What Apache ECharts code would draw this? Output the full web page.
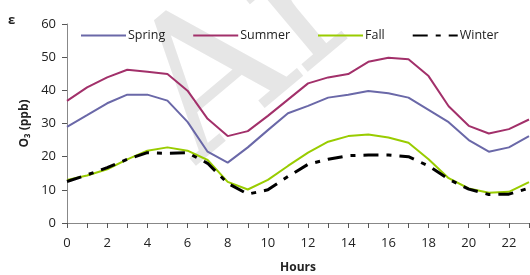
<!DOCTYPE html>
<html>
<head>
<meta charset="utf-8">
<script src="https://cdn.jsdelivr.net/npm/echarts@6/dist/echarts.min.js"></script>
<style>
  html, body { margin: 0; padding: 0; background: #fff; }
  #main { width: 530px; height: 275px; }
</style>
</head>
<body>
<div id="main"></div>
<script>
// hourly O3 means (ppb)
const hours = [0, 1, 2, 3, 4, 5, 6, 7, 8, 9, 10, 11, 12, 13, 14, 15, 16, 17, 18, 19, 20, 21, 22, 23];
const spring = [29, 32.5, 36.1, 38.7, 38.7, 36.9, 30.5, 21.5, 18.2, 22.8, 28, 33.1, 35.3, 37.8, 38.7, 39.8, 39.1, 37.8, 34.1, 30.4, 25, 21.5, 22.8, 26.2];
const summer = [36.8, 40.9, 43.9, 46.2, 45.6, 44.9, 39.9, 31.4, 26.2, 27.7, 32.3, 37.2, 42.1, 43.9, 44.9, 48.6, 49.8, 49.4, 44.3, 35.2, 29.3, 27, 28.3, 31.2];
const fall = [13, 14.3, 16.2, 19.2, 21.8, 22.8, 21.8, 19, 12.4, 10.1, 13, 17.2, 21.2, 24.5, 26.2, 26.7, 25.8, 24.2, 19.2, 13.5, 10.4, 9.1, 9.4, 12.3];
const winter = [12.5, 14.5, 16.7, 19.2, 21.2, 21, 21.2, 18, 12, 8.7, 10, 14, 17.7, 19.2, 20.3, 20.5, 20.5, 20, 17.2, 13.2, 10.2, 8.6, 8.7, 10.5];

const seriesNames = ['Spring', 'Summer', 'Fall', 'Winter'];
const seriesData = [spring, summer, fall, winter];
const colors = ['#6a68a8', '#a2306a', '#99cc00', '#000000'];

function pairs(arr) {
  return arr.map(function (v, i) { return [hours[i], v]; });
}

const chart = echarts.init(document.getElementById('main'));

const series = seriesData.map(function (d, i) {
  const s = {
    name: seriesNames[i],
    type: 'line',
    data: pairs(d),
    symbol: 'none',
    z: 3,
    lineStyle: { color: colors[i], width: 2 },
    itemStyle: { color: colors[i] }
  };
  if (seriesNames[i] === 'Winter') {
    s.lineStyle = { color: '#000', width: 3, type: [15, 8, 5, 8] };
  }
  return s;
});

const option = {
  animation: false,
  textStyle: { fontFamily: 'Open Sans' },
  graphic: [{
    // faint watermark behind the plot
    type: 'text',
    x: 226,
    y: 200,
    rotation: Math.PI / 180 * 40,
    z: 0,
    style: {
      text: 'Arc',
      font: '190px "DejaVu Serif"',
      fill: '#e6e6e6',
      verticalAlign: 'bottom'
    }
  }, {
    type: 'text',
    left: 8,
    top: 14,
    style: { text: '\u03b5', font: 'bold 13px "Open Sans"', fill: '#222' }
  }],
  legend: {
    data: seriesNames,
    left: 75,
    top: 24,
    itemWidth: 45,
    itemHeight: 10,
    itemGap: 27,
    itemStyle: { opacity: 0, borderWidth: 0 },
    textStyle: { fontSize: 12.5, color: '#222', fontFamily: 'Open Sans', padding: [0, 0, 0, -3] }
  },
  grid: { left: 67, right: 1, top: 24, bottom: 52, containLabel: false, outerBoundsMode: 'none' },
  xAxis: {
    type: 'value',
    min: 0,
    max: 23,
    interval: 1,
    name: 'Hours',
    nameLocation: 'middle',
    nameGap: 39,
    nameTextStyle: { fontWeight: 'bold', fontSize: 12, color: '#222' },
    axisLine: { lineStyle: { color: '#888' } },
    axisTick: { length: 5, lineStyle: { color: '#555' } },
    splitLine: { show: false },
    axisLabel: {
      fontSize: 13,
      color: '#222',
      margin: 14,
      formatter: function (v) { return v % 2 === 0 ? String(v) : ''; }
    }
  },
  yAxis: {
    type: 'value',
    min: 0,
    max: 60,
    interval: 10,
    name: 'O\u2083 (ppb)',
    nameLocation: 'middle',
    nameGap: 32,
    nameTextStyle: { fontWeight: 'bold', fontSize: 12, color: '#222' },
    axisLine: { show: true, lineStyle: { color: '#888' } },
    axisTick: { show: true, length: 5, lineStyle: { color: '#555' } },
    splitLine: { show: false },
    axisLabel: { fontSize: 13, color: '#222', margin: 11 }
  },
  series: series
};

chart.setOption(option);
</script>
</body>
</html>
